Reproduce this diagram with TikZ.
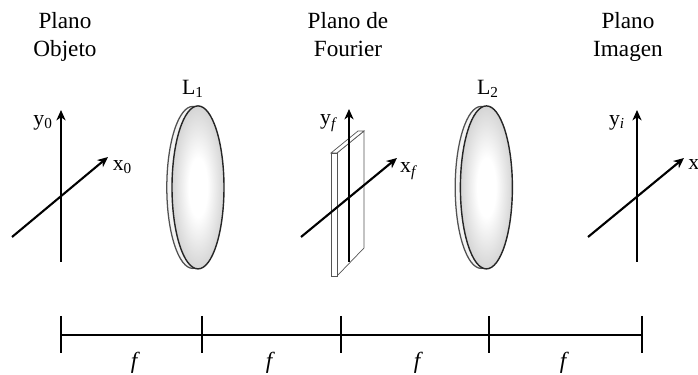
\documentclass[tikz,border=0pt]{standalone}
\usepackage{fontspec}
\setmainfont{Liberation Serif}
\usetikzlibrary{arrows.meta, positioning, shapes.geometric}
\definecolor{LensGray}{HTML}{B0B0B0}
\definecolor{LensEdge}{HTML}{262626}
\definecolor{PlateGray}{HTML}{555555}
\pgfdeclareradialshading{lensglow}{\pgfpoint{0bp}{0bp}}{
  color(0bp)=(white); color(9bp)=(white); color(24bp)=(LensGray!50); color(34bp)=(LensGray!95); color(50bp)=(LensGray)}
\tikzset{
  title/.style={align=center, inner sep=0pt, text depth=3.6pt, font=\fontsize{16.5}{19.8}\selectfont},
  label/.style={inner sep=0pt, font=\fontsize{15.5}{18}\selectfont},
  flabel/.style={inner sep=0pt, font=\fontsize{16.5}{19}\selectfont\itshape},
  lens/.style={ellipse, draw=LensEdge, line width=1pt, inner sep=0pt, minimum width=1.3cm, minimum height=4.075cm, shading=lensglow},
  lensback/.style={ellipse, draw=LensEdge!80, line width=0.9pt, fill=LensGray!15, inner sep=0pt, minimum width=1.3cm, minimum height=4.05cm},
  axis/.style={-{Stealth[length=2.6mm, width=2.3mm, inset=0.8mm]}, line width=1.5pt, draw=black},
  plate/.style={draw=PlateGray, line width=0.5pt, fill=white},
  ruler/.style={line width=1.1pt, draw=black}
}
\begin{document}
\begin{tikzpicture}
\useasboundingbox (0,0) rectangle (17.45,9.375);

\node[title] (tobj) at (1.625,8.45) {Plano\\Objeto};
\node[title] (tfou) at (8.7,8.45) {Plano de\\Fourier};
\node[title] (tima) at (15.7,8.45) {Plano\\Imagen};

\node[lensback] (l1b) at (4.82,4.69) {};
\node[lens] (l1) at (4.95,4.69) {};
\node[lensback] (l2b) at (12.03,4.69) {};
\node[lens] (l2) at (12.16,4.69) {};
\node[label] (nl1) at (4.825,7.15) {L\textsubscript{1}};
\node[label] (nl2) at (12.2,7.15) {L\textsubscript{2}};

% Fourier plane plate
\draw[plate] (8.425,5.55) -- (9.1,6.1) -- (9.1,3.175) -- (8.425,2.475) -- cycle;
\draw[plate] (8.275,5.55) -- (8.95,6.1) -- (9.1,6.1) -- (8.425,5.55) -- cycle;
\draw[plate] (8.275,2.475) rectangle (8.425,5.55);

\coordinate (o1b) at (1.525,2.825);
\coordinate (o1t) at (1.525,6.625);
\coordinate (o1l) at (0.30,3.45);
\coordinate (o1r) at (2.70,5.45);
\coordinate (o2b) at (8.725,2.825);
\coordinate (o2t) at (8.725,6.65);
\coordinate (o2l) at (7.525,3.45);
\coordinate (o2r) at (9.925,5.425);
\coordinate (o3b) at (15.925,2.825);
\coordinate (o3t) at (15.925,6.625);
\coordinate (o3l) at (14.70,3.45);
\coordinate (o3r) at (17.10,5.425);

\draw[axis] (o1b) -- (o1t);
\draw[axis] (o1l) -- (o1r);
\draw[axis] (o2b) -- (o2t);
\draw[axis] (o2l) -- (o2r);
\draw[axis] (o3b) -- (o3t);
\draw[axis] (o3l) -- (o3r);

\node[label] (y0) at (1.075,6.3) {y\textsubscript{0}};
\node[label] (x0) at (3.06,5.2) {x\textsubscript{0}};
\node[label] (yf) at (8.225,6.3) {y\textsubscript{\textit{f}}};
\node[label] (xf) at (10.225,5.1) {x\textsubscript{\textit{f}}};
\node[label] (yi) at (15.425,6.3) {y\textsubscript{\textit{i}}};
\node[label, anchor=west] (xi) at (17.2,5.25) {x};

\coordinate (r0) at (1.525,1.0);
\coordinate (r1) at (5.05,1.0);
\coordinate (r2) at (8.525,1.0);
\coordinate (r3) at (12.225,1.0);
\coordinate (r4) at (16.05,1.0);
\coordinate (r0t) at (1.525,1.475);
\coordinate (r0b) at (1.525,0.55);
\coordinate (r1t) at (5.05,1.475);
\coordinate (r1b) at (5.05,0.55);
\coordinate (r2t) at (8.525,1.475);
\coordinate (r2b) at (8.525,0.55);
\coordinate (r3t) at (12.225,1.475);
\coordinate (r3b) at (12.225,0.55);
\coordinate (r4t) at (16.05,1.475);
\coordinate (r4b) at (16.05,0.55);

\draw[ruler] (r0) -- (r4);
\draw[ruler] (r0t) -- (r0b);
\draw[ruler] (r1t) -- (r1b);
\draw[ruler] (r2t) -- (r2b);
\draw[ruler] (r3t) -- (r3b);
\draw[ruler] (r4t) -- (r4b);

\node[flabel] (f1) at (3.35,0.31) {f};
\node[flabel] (f2) at (6.725,0.31) {f};
\node[flabel] (f3) at (10.425,0.31) {f};
\node[flabel] (f4) at (14.075,0.31) {f};
\end{tikzpicture}
\end{document}
